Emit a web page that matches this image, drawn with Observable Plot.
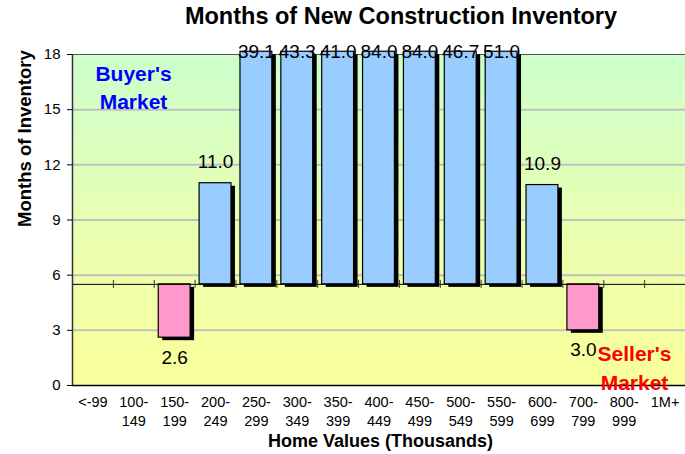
<!DOCTYPE html>
<html>
<head>
<meta charset="utf-8">
<script src="https://cdn.jsdelivr.net/npm/d3@7"></script>
<script src="https://cdn.jsdelivr.net/npm/@observablehq/plot@0.6"></script>
<style>
  html, body { margin: 0; padding: 0; background: #fff; }
  #chart { width: 685px; height: 454px; }
</style>
</head>
<body>
<div id="chart"></div>
<script>
// ---- data ----
const categories = ["<-99","100-149","150-199","200-249","250-299","300-349","350-399","400-449","450-499","500-549","550-599","600-699","700-799","800-999","1M+"];
const tickLabels = ["<-99","100-\n149","150-\n199","200-\n249","250-\n299","300-\n349","350-\n399","400-\n449","450-\n499","500-\n549","550-\n599","600-\n699","700-\n799","800-\n999","1M+"];
const values = [null, null, 2.6, 11.0, 39.1, 43.3, 41.0, 84.0, 84.0, 46.7, 51.0, 10.9, 3.0, null, null];
const yTicks = [0, 3, 6, 9, 12, 15, 18];
const gridTicks = [3, 6, 9, 12, 15];
const baseline = 5.5;
const yMax = 18;
const barTop = 18.15;

const rows = categories.map((cat, i) => ({cat, value: values[i]})).filter(d => d.value != null);
const above = rows.filter(d => d.value >= baseline);
const below = rows.filter(d => d.value < baseline);

const W = 685, H = 454, mL = 72, mR = 0, mT = 54, mB = 69;
const bw = (W - mL - mR) / categories.length;

const font = "'Liberation Sans', Arial, sans-serif";
const blue = "#99ccff", pink = "#ff99cc";

const plot = Plot.plot({
  width: W, height: H,
  marginLeft: mL, marginRight: mR, marginTop: mT, marginBottom: mB,
  style: {fontFamily: font, color: "#000", background: "transparent"},
  x: {type: "band", domain: categories, padding: 0, round: false},
  y: {domain: [0, yMax]},
  marks: [
    Plot.frame({fill: "url(#bgGrad)", stroke: "none"}),
    Plot.ruleY(gridTicks, {stroke: "#c0c0c0", strokeWidth: 2}),
    Plot.ruleY([yMax], {stroke: "#555", strokeWidth: 1.2}),
    // shadows
    Plot.barY(rows, {x: "cat", y1: baseline, y2: d => Math.min(d.value, barTop), fill: "#000", insetLeft: 4.5, insetRight: 4.5, dx: 4, dy: 3}),
    // bars
    Plot.barY(rows, {x: "cat", y1: baseline, y2: d => Math.min(d.value, barTop), fill: d => d.value >= baseline ? blue : pink, stroke: "#000", strokeWidth: 1.2, insetLeft: 4.5, insetRight: 4.5}),
    // baseline with ticks
    Plot.ruleY([baseline], {stroke: "#000", strokeWidth: 1}),
    Plot.ruleX(categories, {x: d => d, dx: -bw / 2, y1: baseline, y2: baseline, insetTop: -4, insetBottom: -4, stroke: "#333", strokeWidth: 1}),
    // axes lines
    Plot.ruleY([0], {stroke: "#000", strokeWidth: 1.5}),
    Plot.ruleX([categories[0]], {x: d => d, dx: -bw / 2, y1: 0, y2: yMax, stroke: "#333", strokeWidth: 1.5}),
    Plot.axisY({ticks: yTicks, tickSize: 5, tickPadding: 7, fontSize: 15, label: null, stroke: "#000"}),
    Plot.axisX({tickSize: 0, tickPadding: 8, fontSize: 14.5, lineHeight: 1.3, label: null,
      tickFormat: d => tickLabels[categories.indexOf(d)]}),
    // value labels
    Plot.text(above.filter(d => d.value <= yMax), {x: "cat", y: "value", text: d => d.value.toFixed(1), dy: -21, fontSize: 19, lineAnchor: "middle", fill: "#000"}),
    Plot.text(above.filter(d => d.value > yMax), {x: "cat", y: () => yMax, text: d => d.value.toFixed(1), dy: -3, fontSize: 19, lineAnchor: "middle", fill: "#000"}),
    Plot.text(below, {x: "cat", y: "value", text: d => d.value.toFixed(1), dy: 20, fontSize: 19, lineAnchor: "middle", fill: "#000"}),
    // annotations
    Plot.text(["Buyer's\nMarket"], {frameAnchor: "top-left", text: d => d, dx: 61, dy: 6, lineAnchor: "top", textAnchor: "middle", fontSize: 21, fontWeight: "bold", fill: "#0000ff", lineHeight: 1.35}),
    Plot.text(["Seller's\nMarket"], {frameAnchor: "bottom-right", text: d => d, dx: -51, dy: -45, lineAnchor: "top", textAnchor: "middle", fontSize: 21, fontWeight: "bold", fill: "#ff0000", lineHeight: 1.38}),
    // titles
    Plot.text(["Months of New Construction Inventory"], {frameAnchor: "top", text: d => d, dx: 22, dy: -38, lineAnchor: "middle", fontSize: 23.5, fontWeight: "bold", fill: "#000"}),
    Plot.text(["Months of Inventory"], {frameAnchor: "left", text: d => d, dx: -47, dy: 7, rotate: -90, lineAnchor: "middle", fontSize: 18.5, fontWeight: "bold", fill: "#000"}),
    Plot.text(["Home Values (Thousands)"], {frameAnchor: "bottom", text: d => d, dx: 1.5, dy: 56, lineAnchor: "middle", fontSize: 18, fontWeight: "bold", fill: "#000"})
  ]
});

// gradient definition for plot background
const svg = d3.select(plot);
const defs = svg.insert("defs", ":first-child");
const grad = defs.append("linearGradient").attr("id", "bgGrad").attr("x1", 0).attr("y1", 0).attr("x2", 0).attr("y2", 1);
grad.append("stop").attr("offset", "0%").attr("stop-color", "#ccffcc");
grad.append("stop").attr("offset", "55%").attr("stop-color", "#eaffb0");
grad.append("stop").attr("offset", "100%").attr("stop-color", "#faff9a");

document.getElementById("chart").appendChild(plot);
</script>
</body>
</html>
